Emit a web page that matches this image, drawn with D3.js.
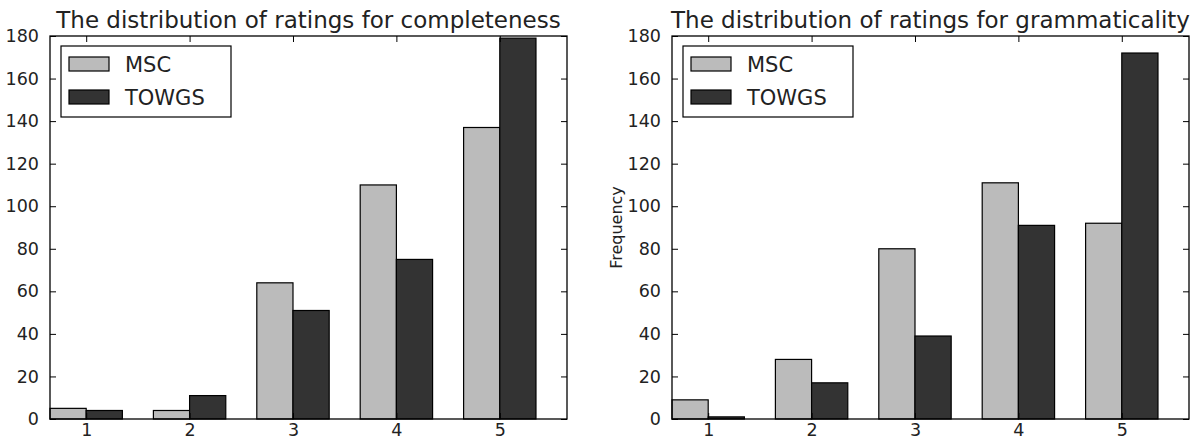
<!DOCTYPE html>
<html><head><meta charset="utf-8">
<script src="https://cdn.jsdelivr.net/npm/d3@7"></script>
<style>
html,body{margin:0;padding:0;background:#fff;}
svg{display:block;font-family:"DejaVu Sans",sans-serif;}
</style></head>
<body>
<script>
const categories = [1, 2, 3, 4, 5];
const seriesNames = ["MSC", "TOWGS"];
const completenessMSC = [5, 4, 64, 110, 137];
const completenessTOWGS = [4, 11, 51, 75, 179];
const grammaticalityMSC = [9, 28, 80, 111, 92];
const grammaticalityTOWGS = [1, 17, 39, 91, 172];
const yTicks = [0, 20, 40, 60, 80, 100, 120, 140, 160, 180];
const titles = ["The distribution of ratings for completeness", "The distribution of ratings for grammaticality"];
const colors = {MSC: "#bbbbbb", TOWGS: "#333333"};

const W = 1201, H = 443;
const svg = d3.select("body").append("svg").attr("width", W).attr("height", H);

const panels = [
  {x0: 50, x1: 567, title: titles[0], msc: completenessMSC, tow: completenessTOWGS, ylabel: null},
  {x0: 672, x1: 1189, title: titles[1], msc: grammaticalityMSC, tow: grammaticalityTOWGS, ylabel: "Frequency"}
];
const yTop = 36, yBot = 419;
const barW = 0.35;

panels.forEach(p => {
  const x = d3.scaleLinear().domain([0.65, 5.65]).range([p.x0, p.x1]);
  const y = d3.scaleLinear().domain([0, 180]).range([yBot, yTop]);
  const g = svg.append("g");
  const pxW = x(1 + barW) - x(1);

  // bars
  g.selectAll(".msc").data(categories).enter().append("rect")
    .attr("x", d => x(d - barW)).attr("y", (d, i) => y(p.msc[i]))
    .attr("width", pxW).attr("height", (d, i) => y(0) - y(p.msc[i]))
    .attr("fill", colors.MSC).attr("stroke", "#000").attr("stroke-width", 1.2);
  g.selectAll(".tow").data(categories).enter().append("rect")
    .attr("x", d => x(d)).attr("y", (d, i) => y(p.tow[i]))
    .attr("width", pxW).attr("height", (d, i) => y(0) - y(p.tow[i]))
    .attr("fill", colors.TOWGS).attr("stroke", "#000").attr("stroke-width", 1.2);

  // axes
  const tl = 6;
  const axB = d3.axisBottom(x).tickValues(categories).tickSize(-tl).tickPadding(5).tickFormat(d3.format("d"));
  const axT = d3.axisTop(x).tickValues(categories).tickSize(-tl).tickFormat("");
  const axL = d3.axisLeft(y).tickValues(yTicks).tickSize(-tl).tickPadding(tl + 5);
  const axR = d3.axisRight(y).tickValues(yTicks).tickSize(-tl).tickFormat("");
  const gb = g.append("g").attr("transform", `translate(0,${yBot})`).call(axB);
  const gt = g.append("g").attr("transform", `translate(0,${yTop})`).call(axT);
  const gl = g.append("g").attr("transform", `translate(${p.x0},0)`).call(axL);
  const gr = g.append("g").attr("transform", `translate(${p.x1},0)`).call(axR);
  [gb, gt, gl, gr].forEach(a => {
    a.select(".domain").remove();
    a.selectAll(".tick line").attr("stroke", "#000").attr("stroke-width", 1);
    a.selectAll("text").attr("font-size", 17.5).attr("fill", "#222").attr("font-family", "DejaVu Sans");
  });
  // frame
  g.append("rect").attr("x", p.x0).attr("y", yTop).attr("width", p.x1 - p.x0).attr("height", yBot - yTop)
    .attr("fill", "none").attr("stroke", "#000").attr("stroke-width", 1.3);

  // title
  g.append("text").attr("x", (p.x0 + p.x1) / 2).attr("y", 28).attr("text-anchor", "middle")
    .attr("font-size", 23).attr("fill", "#222").text(p.title);

  if (p.ylabel) {
    g.append("text").attr("transform", `translate(${p.x0 - 50},${(yTop + yBot) / 2}) rotate(-90)`)
      .attr("text-anchor", "middle").attr("font-size", 16).attr("fill", "#222").text(p.ylabel);
  }

  // legend
  const lx = p.x0 + 11, ly = 46;
  const lg = g.append("g");
  lg.append("rect").attr("x", lx).attr("y", ly).attr("width", 170).attr("height", 71)
    .attr("fill", "#fff").attr("stroke", "#000").attr("stroke-width", 1.2);
  seriesNames.forEach((s, i) => {
    const cy = ly + 18 + i * 33;
    lg.append("rect").attr("x", lx + 8).attr("y", cy - 7).attr("width", 40).attr("height", 14)
      .attr("fill", colors[s]).attr("stroke", "#000").attr("stroke-width", 1.2);
    lg.append("text").attr("x", lx + 64).attr("y", cy + 8).attr("font-size", 21).attr("fill", "#222").text(s);
  });
});
</script>
</body></html>
